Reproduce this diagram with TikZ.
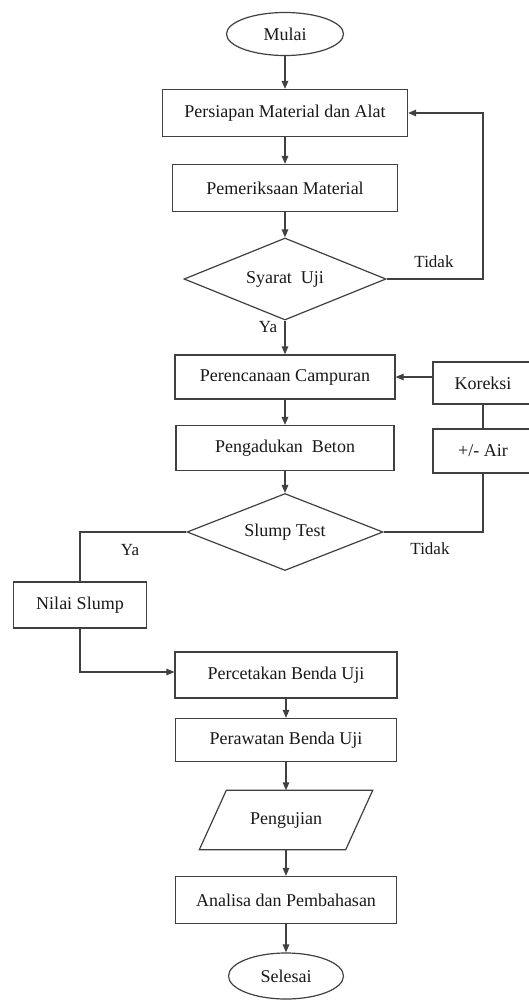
\documentclass[tikz,border=0pt]{standalone}
\usepackage{fontspec}
\setmainfont{Liberation Serif}
\usetikzlibrary{shapes.geometric,arrows.meta}
\begin{document}
\begin{tikzpicture}[x=1pt,y=-1pt,
  every node/.style={font=\fontsize{18}{20}\selectfont, inner sep=0pt, text=black!90},
  box/.style={draw=black!75, line width=1.3pt, rectangle, minimum width=#1, minimum height=45},
  box/.default=220,
  term/.style={draw=black!75, line width=1.2pt, ellipse, minimum width=117, minimum height=43},
  dec/.style={draw=black!75, line width=1.2pt, diamond, minimum width=#1, minimum height=80, aspect=2.5},
  flow/.style={draw=black!75, line width=1.3pt, -{Triangle[length=8pt,width=6.5pt]}},
  line/.style={draw=black!75, line width=1.3pt},
  lbl/.style={font=\fontsize{17}{19}\selectfont}]
\clip (0,0) rectangle (529,1004);
\fill[white] (0,0) rectangle (529,1004);

\node[term] (mulai) at (285,34) {Mulai};
\node[box=245, minimum height=47] (b1) at (285,113) {Persiapan Material dan Alat};
\node[box=225, minimum height=47] (b2) at (285,188) {Pemeriksaan Material};
\node[dec=202, minimum height=82] (d1) at (285,279) {Syarat\ \ Uji};
\node[box=220, minimum height=44] (b3) at (285,377) {Perencanaan Campuran};
\node[box=100, minimum height=42] (kor) at (483,383) {Koreksi};
\node[box=100, minimum height=44] (air) at (483,451) {+/- Air};
\node[box=218] (b4) at (285,448) {Pengadukan\ \ Beton};
\node[dec=196, minimum height=77] (d2) at (285,532) {Slump Test};
\node[box=133, minimum height=46] (nilai) at (80,605) {Nilai Slump};
\node[box=222, minimum height=46] (b5) at (286,675) {Percetakan Benda Uji};
\node[box=221, minimum height=43] (b6) at (286,740) {Perawatan Benda Uji};
\node[minimum width=173, minimum height=59] (pj) at (286,820) {Pengujian};
\draw[line width=1.2pt, draw=black!75] ([xshift=27]pj.north west) -- (pj.north east)
  -- ([xshift=-27]pj.south east) -- (pj.south west) -- cycle;
\node[box=221, minimum height=47] (b7) at (286,900) {Analisa dan Pembahasan};
\node[term, minimum width=115, minimum height=46] (selesai) at (286,976) {Selesai};

\coordinate (r1) at (483,279);
\coordinate (nl) at (80,672);

\draw[flow] (mulai) -- (b1);
\draw[flow] (b1) -- (b2);
\draw[flow] (b2) -- (d1);
\draw[flow] (d1.east) -- (r1) |- (b1.east);
\draw[flow] (d1) -- (b3);
\draw[flow] (kor.west |- b3.east) -- (b3.east);
\draw[line] (kor) -- (air);
\draw[flow] (b3) -- (b4);
\draw[flow] (b4) -- (d2);
\draw[line] (d2.east) -| (air.south);
\draw[line] (d2.west) -| (nilai.north);
\draw[flow] (nilai.south) -- (nl) -- (b5.west |- nl);
\draw[flow] (b5) -- (b6);
\draw[flow] (b6) -- (pj);
\draw[flow] (pj) -- (b7);
\draw[flow] (b7) -- (selesai);

\node[lbl] (t1) at (434,262) {Tidak};
\node[lbl] (y1) at (268,327) {Ya};
\node[lbl] (t2) at (430,549) {Tidak};
\node[lbl] (y2) at (130,550) {Ya};
\end{tikzpicture}
\end{document}
